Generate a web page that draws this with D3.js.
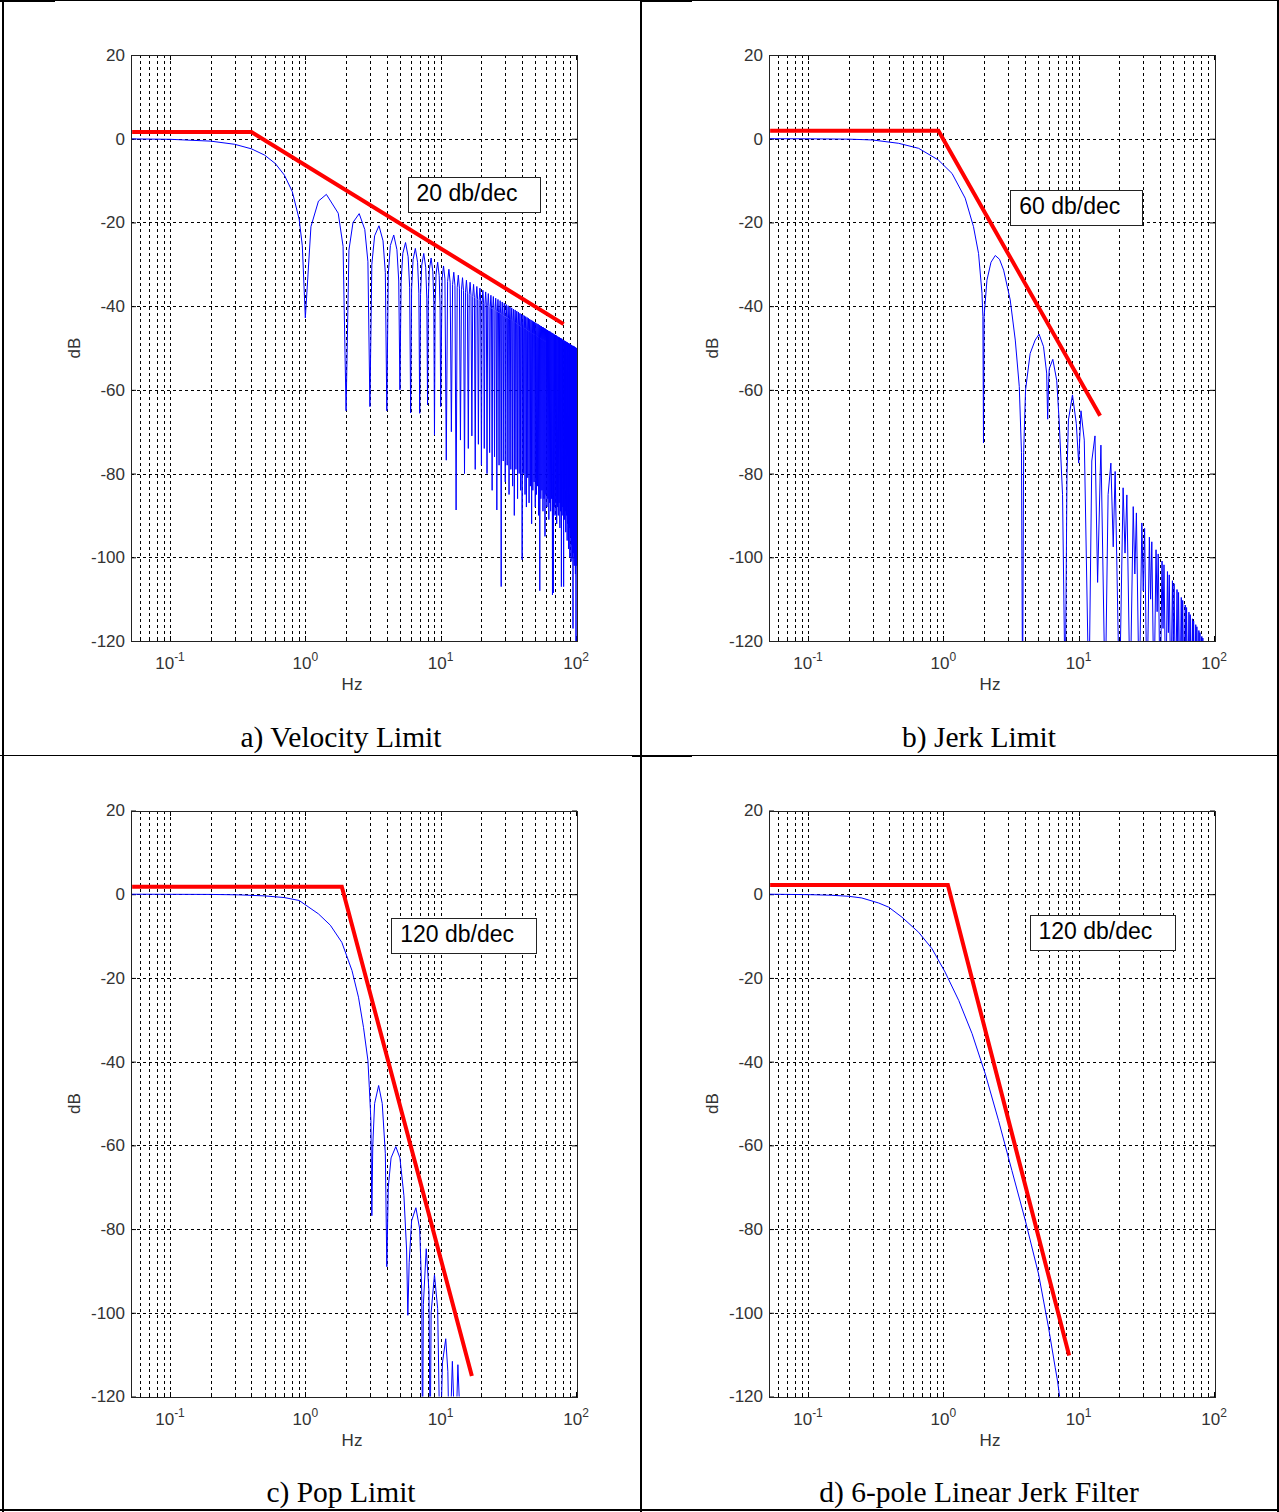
<!DOCTYPE html>
<html>
<head>
<meta charset="utf-8">
<script src="https://cdn.jsdelivr.net/npm/d3@7/dist/d3.min.js"></script>
<style>
body { margin: 0; background: #fff; }
svg { display: block; }
.tick text, .lbl { font-family: "Liberation Sans", Arial, sans-serif; font-size: 17px; fill: #333; }
.grid { stroke: #000; stroke-width: 1; stroke-dasharray: 3,3; shape-rendering: crispEdges; }
.caption { font-family: "Liberation Serif", "Times New Roman", serif; font-size: 29.5px; fill: #000; }
.note { font-family: "Liberation Sans", Arial, sans-serif; font-size: 23px; fill: #000; }
</style>
</head>
<body>
<div id="chart"></div>
<script>
// Axes, shared by the four plots
var dbRange = [-120, 20];
var hzRange = [0.0515, 101.7];
var dbTicks = [20, 0, -20, -40, -60, -80, -100, -120];
var hzMajor = [0.1, 1, 10, 100];
var hzMajorExp = ["-1", "0", "1", "2"];
var hzGrid = [0.06, 0.07, 0.08, 0.09, 0.1, 0.2, 0.3, 0.4, 0.5, 0.6, 0.7, 0.8, 0.9, 1,
    2, 3, 4, 5, 6, 7, 8, 9, 10, 20, 30, 40, 50, 60, 70, 80, 90, 100];

// a) Velocity limit, blue response
var velHz = [0.0515, 0.1, 0.2, 0.3, 0.4, 0.5, 0.6, 0.7, 0.8, 0.9, 0.95, 1,
    1.1, 1.25, 1.43, 1.75, 1.9, 2,
    2.1, 2.25, 2.5, 2.75, 2.9, 3,
    3.1, 3.25, 3.5, 3.75, 3.9, 4,
    4.1, 4.25, 4.5, 4.75, 4.9, 5,
    5.1, 5.25, 5.5, 5.75, 5.9, 6,
    6.1, 6.25, 6.5, 6.75, 6.9, 7,
    7.1, 7.25, 7.5, 7.75, 7.9, 8,
    8.1, 8.25, 8.5, 8.75, 8.9, 9,
    9.1, 9.25, 9.5, 9.75, 9.9, 10,
    10.25, 10.5, 10.75, 11, 11.25, 11.5, 11.75, 12, 12.25, 12.5, 12.75, 13, 13.25, 13.5, 13.75, 14,
    14.25, 14.5, 14.75, 15, 15.25, 15.5, 15.75, 16, 16.25, 16.5, 16.75, 17, 17.25, 17.5, 17.75, 18,
    18.25, 18.5, 18.75, 19, 19.25, 19.5, 19.75, 20, 20.25, 20.5, 20.75, 21, 21.25, 21.5, 21.75, 22,
    22.25, 22.5, 22.75, 23, 23.25, 23.5, 23.75, 24, 24.25, 24.5, 24.75, 25, 25.25, 25.5, 25.75, 26,
    26.25, 26.5, 26.75, 27, 27.25, 27.5, 27.75, 28, 28.25, 28.5, 28.75, 29, 29.25, 29.5, 29.75, 30,
    30.25, 30.5, 30.75, 31, 31.25, 31.5, 31.75, 32, 32.25, 32.5, 32.75, 33, 33.25, 33.5, 33.75, 34,
    34.25, 34.5, 34.75, 35, 35.25, 35.5, 35.75, 36, 36.25, 36.5, 36.75, 37, 37.25, 37.5, 37.75, 38,
    38.25, 38.5, 38.75, 39, 39.25, 39.5, 39.75, 40, 40.25, 40.5, 40.75, 41, 41.25, 41.5, 41.75, 42,
    42.25, 42.5, 42.75, 43, 43.25, 43.5, 43.75, 44, 44.25, 44.5, 44.75, 45, 45.25, 45.5, 45.75, 46,
    46.25, 46.5, 46.75, 47, 47.25, 47.5, 47.75, 48, 48.25, 48.5, 48.75, 49, 49.25, 49.5, 49.75, 50,
    50.25, 50.5, 50.75, 51, 51.25, 51.5, 51.75, 52, 52.25, 52.5, 52.75, 53, 53.25, 53.5, 53.75, 54,
    54.25, 54.5, 54.75, 55, 55.25, 55.5, 55.75, 56, 56.25, 56.5, 56.75, 57, 57.25, 57.5, 57.75, 58,
    58.25, 58.5, 58.75, 59, 59.25, 59.5, 59.75, 60,
    60.5, 61, 61.5, 62, 62.5, 63, 63.5, 64, 64.5, 65, 65.5, 66, 66.5, 67, 67.5, 68, 68.5, 69, 69.5, 70,
    70.5, 71, 71.5, 72, 72.5, 73, 73.5, 74, 74.5, 75, 75.5, 76, 76.5, 77, 77.5, 78, 78.5, 79, 79.5, 80,
    80.5, 81, 81.5, 82, 82.5, 83, 83.5, 84, 84.5, 85, 85.5, 86, 86.5, 87, 87.5, 88, 88.5, 89, 89.5, 90,
    90.5, 91, 91.5, 92, 92.5, 93, 93.5, 94, 94.5, 95, 95.5, 96, 96.5, 97, 97.5, 98, 98.5, 99, 99.5, 100,
    100.5, 101, 101.5];
var velDb = [-0.04, -0.14, -0.58, -1.33, -2.42, -3.92, -5.94, -8.69, -12.6, -19.2, -25.6, -42.8,
    -21.0, -14.9, -13.3, -17.8, -25.7, -65,
    -26.6, -20.0, -17.9, -21.7, -29.4, -64,
    -30.0, -23.2, -20.8, -24.4, -32.0, -65,
    -32.4, -25.5, -23.0, -26.5, -34.0, -60,
    -34.3, -27.4, -24.8, -28.2, -35.6, -65.5,
    -35.9, -28.9, -26.2, -29.5, -36.9, -65.6,
    -37.2, -30.2, -27.4, -30.7, -38.1, -63.6,
    -38.3, -31.3, -28.5, -31.8, -39.1, -70.8,
    -39.3, -32.3, -29.5, -32.7, -40.1, -64,
    -33.3, -30.4, -33.5, -76.8, -34.1, -31.2, -34.3, -70, -34.8, -31.9, -35.0, -88.7, -35.5, -32.6, -35.7, -72,
    -36.1, -33.2, -36.3, -80, -36.7, -33.8, -36.9, -74, -37.2, -34.3, -37.4, -71, -37.7, -34.8, -37.9, -79,
    -38.2, -35.3, -38.4, -73, -38.6, -35.7, -38.8, -78, -39.1, -36.2, -39.3, -74, -39.5, -36.6, -39.7, -80,
    -39.9, -37.0, -40.1, -75, -40.3, -37.4, -40.5, -84, -40.6, -37.7, -40.8, -76, -41.0, -38.1, -41.2, -88.7,
    -41.3, -38.4, -41.5, -78, -41.6, -38.7, -41.8, -107, -41.9, -39.0, -42.1, -77, -42.2, -39.3, -42.4, -82,
    -42.5, -39.6, -42.7, -78, -42.8, -39.9, -43.0, -85, -43.1, -40.2, -43.3, -79, -43.3, -40.4, -43.5, -83,
    -43.6, -40.7, -43.8, -90, -43.8, -40.9, -44.0, -79, -44.1, -41.2, -44.3, -86, -44.3, -41.4, -44.5, -80,
    -44.6, -41.7, -44.8, -84, -44.8, -41.9, -45.0, -100.6, -45.0, -42.1, -45.2, -80, -45.2, -42.3, -45.4, -85,
    -45.4, -42.5, -45.6, -88, -45.6, -42.7, -45.8, -81, -45.8, -42.9, -46.0, -87, -46.0, -43.1, -46.2, -83,
    -46.2, -43.3, -46.4, -92, -46.4, -43.5, -46.6, -84, -46.6, -43.7, -46.8, -82, -46.7, -43.8, -46.9, -88,
    -46.9, -44.0, -47.1, -85, -47.1, -44.2, -47.3, -83, -47.2, -44.3, -47.4, -90, -47.4, -44.5, -47.6, -108,
    -47.6, -44.7, -47.8, -86, -47.7, -44.8, -47.9, -84, -47.9, -45.0, -48.1, -89, -48.0, -45.1, -48.2, -86,
    -48.2, -45.3, -48.4, -95, -48.3, -45.4, -48.5, -85,
    -45.6, -88, -45.7, -86, -45.9, -91, -46.0, -87, -46.1, -89, -46.3, -86, -46.4, -109, -46.5, -108.5, -46.7, -88, -46.8, -90,
    -46.9, -87, -47.0, -92, -47.2, -88, -47.3, -90, -47.4, -87, -47.5, -93, -47.6, -89, -47.7, -107, -47.8, -90, -48.0, -88,
    -48.1, -107, -48.2, -91, -48.3, -89, -48.4, -94, -48.5, -90, -48.6, -96, -48.7, -92, -48.8, -98, -48.9, -93, -49.0, -100,
    -49.1, -95, -49.2, -101, -49.3, -97, -49.4, -100, -49.5, -117, -49.5, -99, -49.6, -102, -49.7, -100, -49.8, -104, -49.9, -120,
    -50.0, -102, -50.1];
var velAsymHz = [0.0525, 0.40, 81];
var velAsymDb = [1.6, 1.6, -44.3];

// b) Jerk limit
var jerkHz = [0.0515, 0.1, 0.2, 0.3, 0.468, 0.657, 0.92, 1.16, 1.45, 1.67, 1.82, 1.93, 1.96, 1.98, 2,
    2.1, 2.25, 2.42, 2.6, 2.79, 3.12, 3.4, 3.64, 3.78, 3.85, 3.92, 4.05, 4.38, 4.77, 5.1, 5.5, 5.8,
    5.9, 6, 6.06, 6.44, 6.88, 7.17, 7.6, 7.95, 8.2, 8.4, 9, 9.6, 10, 10.4, 11, 11.9, 12.5, 13.2,
    13.8, 14.6, 15.7, 16.5, 17.3, 18, 18.6, 20,
    21.3, 22, 22.7, 24, 25.3, 26, 26.7, 28, 29.3, 30, 30.7, 32, 33.3, 34, 34.7, 36,
    37.3, 38, 38.7, 40, 41.3, 42, 42.7, 44, 45.3, 46, 46.7, 48, 49.3, 50, 50.7, 52,
    53.3, 54, 54.7, 56, 57.3, 58, 58.7, 60, 61.3, 62, 62.7, 64, 65.3, 66, 66.7, 68,
    69.3, 70, 70.7, 72, 73.3, 74, 74.7, 76, 77.3, 78, 78.7, 80, 81.3, 82, 82.7, 84,
    85.3, 86, 101.7];
var jerkDb = [0, -0.02, -0.1, -0.3, -1.1, -2.3, -5.1, -8.3, -14.2, -21.0, -27.4, -36.9, -42.5, -72.7, -42.5,
    -33.8, -29.5, -27.9, -28.8, -31.4, -38.5, -48.1, -59.2, -75, -135, -75, -60, -51.3, -48.1, -46.7, -49.7, -56,
    -67, -58, -55, -52.7, -57.7, -67.2, -85, -135, -80, -67.2, -61.2, -68, -77.5, -65, -72, -135, -77, -71,
    -106, -73.2, -135, -85, -77.5, -97.5, -79.5, -135,
    -83.4, -99, -85.1, -135, -87.9, -104, -89.4, -135, -91.8, -108, -93.1, -135, -95.2, -110, -96.3, -135,
    -98.2, -113, -99.2, -135, -100.9, -117, -101.8, -135, -103.4, -118, -104.2, -135, -105.6, -121, -106.3, -135,
    -107.7, -123, -108.4, -135, -109.6, -125, -110.3, -135, -111.4, -126, -112.0, -135, -113.1, -128, -113.7, -135,
    -114.7, -130, -115.2, -135, -116.1, -130, -116.6, -135, -117.5, -132, -118.0, -135, -118.9, -133, -119.3, -135,
    -120.1, -135, -140];
var jerkAsymHz = [0.0525, 0.92, 14.4];
var jerkAsymDb = [1.9, 1.9, -66.2];

// c) Pop limit
var popHz = [0.0515, 0.2, 0.32, 0.5, 0.7, 0.9, 1.25, 1.53, 1.86, 2.21, 2.47, 2.69, 2.9, 2.97, 3.05, 3.1,
    3.15, 3.25, 3.48, 3.7, 3.9, 4, 4.1, 4.3, 4.66, 5, 5.35, 5.6, 5.72, 5.85, 6.1, 6.56, 7, 7.25, 7.34,
    7.45, 7.82, 8.2, 8.36, 8.5, 9, 9.5, 9.91, 10.3, 10.9, 11.3, 11.6, 12.2, 12.6, 12.8, 13.4, 14.3, 101.7];
var popDb = [0, -0.05, -0.15, -0.4, -0.8, -1.5, -4.7, -7.4, -11.5, -18.2, -24.6, -31.8, -39.7, -46.1, -54, -76.8,
    -60, -50, -45.7, -50, -62, -89, -70, -63, -60.3, -63, -72, -85, -100.6, -88, -78, -74.9, -80, -95, -135,
    -98, -84.7, -95, -135, -100, -90.9, -99, -135, -112, -106.2, -114, -135, -111.6, -125, -135, -112.4, -135, -140];
var popAsymHz = [0.0525, 1.86, 17];
var popAsymDb = [1.8, 1.8, -115.1];

// d) 6-pole linear jerk filter
var filtHz = [0.0515, 0.1, 0.15, 0.2, 0.25, 0.333, 0.395, 0.495, 0.657, 0.824, 1.03, 1.3, 1.63, 2.04,
    2.56, 3.21, 4.03, 5.05, 5.98, 6.7, 6.98, 7.3];
var filtDb = [0, -0.1, -0.25, -0.5, -0.9, -2.1, -3.1, -5.5, -9.1, -13.0, -18.6, -25.4, -33.3, -42.9,
    -54.1, -66.0, -77.9, -90.7, -103.4, -113, -116.3, -121];
var filtAsymHz = [0.0525, 1.08, 8.5];
var filtAsymDb = [2.2, 2.2, -110.2];

// Slope notes, placed in data units (Hz, dB) of their own plot
var noteText = ["20 db/dec", "60 db/dec", "120 db/dec", "120 db/dec"];
var noteHz = [6.63, 3.64, 5.02, 5.05];
var noteDb = [-14.9, -18.1, -11.4, -10.8];
var captions = ["a) Velocity Limit", "b) Jerk Limit", "c) Pop Limit", "d) 6-pole Linear Jerk Filter"];

var panels = [
    {hz: velHz, db: velDb, ahz: velAsymHz, adb: velAsymDb},
    {hz: jerkHz, db: jerkDb, ahz: jerkAsymHz, adb: jerkAsymDb},
    {hz: popHz, db: popDb, ahz: popAsymHz, adb: popAsymDb},
    {hz: filtHz, db: filtDb, ahz: filtAsymHz, adb: filtAsymDb}
];

// layout of the page
var width = 1279, height = 1512;
var plotW = 446, plotH = 586;
var plotLeft = [131, 769, 131, 769];
var plotTop = [55, 55, 810.5, 810.5];
var capX = [341, 979, 341, 979];
var capY = [747, 747, 1502, 1502];

var svg = d3.select("#chart").append("svg")
    .attr("width", width)
    .attr("height", height);

drawTable();
panels.forEach(function(p, i) { drawPanel(p, i); });

// The borders of the word table the plots sit in
function drawTable() {
    var t = svg.append("g").attr("stroke", "#000").attr("shape-rendering", "crispEdges");
    t.append("line").attr("x1", 0).attr("x2", width).attr("y1", 0.5).attr("y2", 0.5).attr("stroke-width", 1);
    t.append("line").attr("x1", 0).attr("x2", 55).attr("y1", 1).attr("y2", 1).attr("stroke-width", 2);
    t.append("line").attr("x1", 640).attr("x2", 692).attr("y1", 1).attr("y2", 1).attr("stroke-width", 2);
    t.append("line").attr("x1", 3).attr("x2", 3).attr("y1", 0).attr("y2", height).attr("stroke-width", 2);
    t.append("line").attr("x1", 641).attr("x2", 641).attr("y1", 0).attr("y2", height).attr("stroke-width", 2);
    t.append("line").attr("x1", 1278).attr("x2", 1278).attr("y1", 0).attr("y2", height).attr("stroke-width", 2);
    t.append("line").attr("x1", 0).attr("x2", width).attr("y1", 755.5).attr("y2", 755.5).attr("stroke-width", 1);
    t.append("line").attr("x1", 632).attr("x2", 692).attr("y1", 756).attr("y2", 756).attr("stroke-width", 2);
    t.append("line").attr("x1", 0).attr("x2", width).attr("y1", 1510).attr("y2", 1510).attr("stroke-width", 2);
}

function drawPanel(p, i) {
    var left = plotLeft[i], top = plotTop[i];
    var x = d3.scaleLog().domain(hzRange).range([left, left + plotW]);
    var y = d3.scaleLinear().domain(dbRange).range([top + plotH, top]);
    var g = svg.append("g").attr("class", "panel");

    g.append("clipPath").attr("id", "clip" + i)
	.append("rect")
	.attr("x", left).attr("y", top)
	.attr("width", plotW).attr("height", plotH);

    // dotted grid, MATLAB style
    g.append("g").selectAll("line")
	.data(hzGrid.filter(function(d){ return d < 100; }))
	.enter().append("line")
	.attr("class", "grid")
	.attr("x1", function(d){ return Math.round(x(d)) + 0.5; })
	.attr("x2", function(d){ return Math.round(x(d)) + 0.5; })
	.attr("y1", top).attr("y2", top + plotH);
    g.append("g").selectAll("line")
	.data(dbTicks.slice(1, -1))
	.enter().append("line")
	.attr("class", "grid")
	.attr("x1", left).attr("x2", left + plotW)
	.attr("y1", function(d){ return Math.round(y(d)) + 0.5; })
	.attr("y2", function(d){ return Math.round(y(d)) + 0.5; });

    // y axis with inward ticks
    g.append("g")
	.attr("transform", "translate(" + left + ",0)")
	.call(d3.axisLeft(y).tickValues(dbTicks).tickSize(-5).tickPadding(6)
	      .tickFormat(function(d){ return String(d); }))
	.call(function(a){ a.select(".domain").remove(); a.selectAll("line").attr("stroke", "#000"); });
    g.append("g")
	.attr("transform", "translate(" + (left + plotW) + ",0)")
	.call(d3.axisRight(y).tickValues(dbTicks).tickSize(-5).tickFormat(""))
	.call(function(a){ a.select(".domain").remove(); a.selectAll("line").attr("stroke", "#000"); });

    // x ticks top and bottom, shorter for minor ones
    var xt = g.append("g").attr("stroke", "#000").attr("shape-rendering", "crispEdges");
    hzGrid.forEach(function(d){
	var len = hzMajor.indexOf(d) >= 0 ? 5 : 3;
	var xx = Math.round(x(d)) + 0.5;
	xt.append("line").attr("x1", xx).attr("x2", xx).attr("y1", top + plotH).attr("y2", top + plotH - len);
	xt.append("line").attr("x1", xx).attr("x2", xx).attr("y1", top).attr("y2", top + len);
    });

    // 10^n labels
    var lab = g.append("g").selectAll("text")
	.data(hzMajor)
	.enter().append("text")
	.attr("class", "lbl")
	.attr("text-anchor", "middle")
	.attr("x", function(d){ return x(d); })
	.attr("y", top + plotH + 28);
    lab.append("tspan").text("10");
    lab.append("tspan")
	.attr("dy", -8)
	.style("font-size", "12px")
	.text(function(d, j){ return hzMajorExp[j]; });

    g.append("text").attr("class", "lbl")
	.attr("text-anchor", "middle")
	.attr("x", left + plotW / 2 - 2)
	.attr("y", top + plotH + 49)
	.text("Hz");
    g.append("text").attr("class", "lbl")
	.attr("text-anchor", "middle")
	.attr("transform", "translate(" + (left - 51) + "," + (top + plotH / 2) + ") rotate(-90)")
	.text("dB");

    // blue response
    var pts = d3.zip(p.hz, p.db);
    g.append("path")
	.datum(pts)
	.attr("clip-path", "url(#clip" + i + ")")
	.attr("fill", "none")
	.attr("stroke", "#0000ff")
	.attr("stroke-width", 1)
	.attr("d", d3.line().x(function(d){ return x(d[0]); }).y(function(d){ return y(d[1]); }));

    // box round the plot
    g.append("rect")
	.attr("x", left + 0.5).attr("y", top + 0.5)
	.attr("width", plotW).attr("height", plotH)
	.attr("fill", "none").attr("stroke", "#222")
	.attr("shape-rendering", "crispEdges");

    // red asymptote
    g.append("path")
	.datum(d3.zip(p.ahz, p.adb))
	.attr("fill", "none")
	.attr("stroke", "#ff0000")
	.attr("stroke-width", 4)
	.attr("d", d3.line().x(function(d){ return x(d[0]); }).y(function(d){ return y(d[1]); }));

    // slope note in a box
    var note = g.append("text")
	.attr("class", "note")
	.attr("x", x(noteHz[i]))
	.attr("y", y(noteDb[i]))
	.text(noteText[i]);
    var bb = note.node().getBBox();
    g.insert("rect", ".note")
	.attr("x", Math.round(bb.x - 9) + 0.5)
	.attr("y", Math.round(bb.y - 3) + 0.5)
	.attr("width", Math.round(bb.width + 31))
	.attr("height", Math.round(bb.height + 9))
	.attr("fill", "#fff")
	.attr("stroke", "#222");

    svg.append("text")
	.attr("class", "caption")
	.attr("text-anchor", "middle")
	.attr("x", capX[i])
	.attr("y", capY[i])
	.text(captions[i]);
}
</script>
</body>
</html>
